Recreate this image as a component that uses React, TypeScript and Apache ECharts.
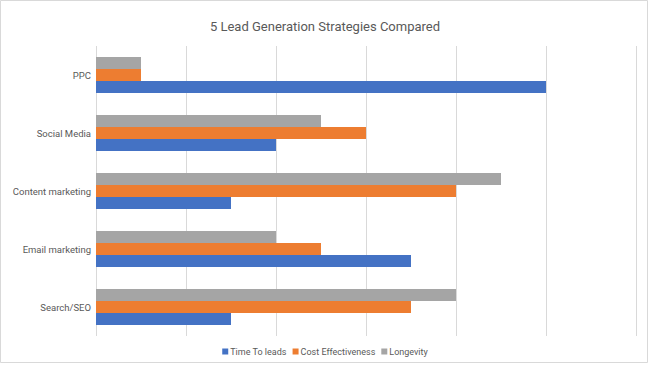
import React, { useEffect, useRef } from "react";
import * as echarts from "echarts";

const categories = ["Search/SEO", "Email marketing", "Content marketing", "Social Media", "PPC"];
const seriesNames = ["Time To leads", "Cost Effectiveness", "Longevity"];
const timeToLeads = [1.5, 3.5, 1.5, 2, 5];
const costEffectiveness = [3.5, 2.5, 4, 3, 0.5];
const longevity = [4, 2, 4.5, 2.5, 0.5];
const colors = ["#4472C4", "#ED7D31", "#A5A5A5"];

const FONT = "Roboto, 'Noto Sans', sans-serif";

export default function App() {
  const ref = useRef<HTMLDivElement>(null);
  useEffect(() => {
    document.body.style.margin = "0";
    const chart = echarts.init(ref.current!, null, { renderer: "svg" });
    const values = [timeToLeads, costEffectiveness, longevity];
    // draw order reversed so the first series sits at the bottom of each band
    const order = [2, 1, 0];
    chart.setOption({
      animation: false,
      backgroundColor: "#ffffff",
      textStyle: { fontFamily: FONT },
      title: {
        text: "5 Lead Generation Strategies Compared",
        left: "center",
        top: 15,
        textStyle: { fontFamily: FONT, fontSize: 13, fontWeight: "normal", color: "#595959" },
      },
      legend: {
        data: seriesNames,
        bottom: 4,
        left: "center",
        itemWidth: 6,
        itemHeight: 6,
        itemGap: 6,
        icon: "rect",
        textStyle: { fontFamily: FONT, fontSize: 9, color: "#595959", padding: [0, 0, 0, -3] },
      },
      grid: { left: 96, right: 14, top: 46, bottom: 29, containLabel: false },
      xAxis: {
        type: "value",
        min: 0,
        max: 6,
        interval: 1,
        axisLabel: { show: false },
        axisLine: { show: false },
        axisTick: { show: false },
        splitLine: { lineStyle: { color: "#D9D9D9", width: 1 } },
      },
      yAxis: {
        type: "category",
        data: categories,
        axisLine: { show: false },
        axisTick: { show: false },
        axisLabel: { fontFamily: FONT, fontSize: 9.5, color: "#595959", margin: 5 },
      },
      series: order.map((i) => ({
        name: seriesNames[i],
        type: "bar",
        data: values[i],
        barGap: "0%",
        barCategoryGap: "38%",
        itemStyle: { color: colors[i] },
      })),
      graphic: [
        {
          type: "rect",
          shape: { x: 0.5, y: 0.5, width: 647, height: 362 },
          style: { fill: "none", stroke: "#D9D9D9", lineWidth: 1 },
          silent: true,
        },
      ],
    });
    return () => chart.dispose();
  }, []);
  return <div ref={ref} style={{ width: 650, height: 365 }} />;
}
